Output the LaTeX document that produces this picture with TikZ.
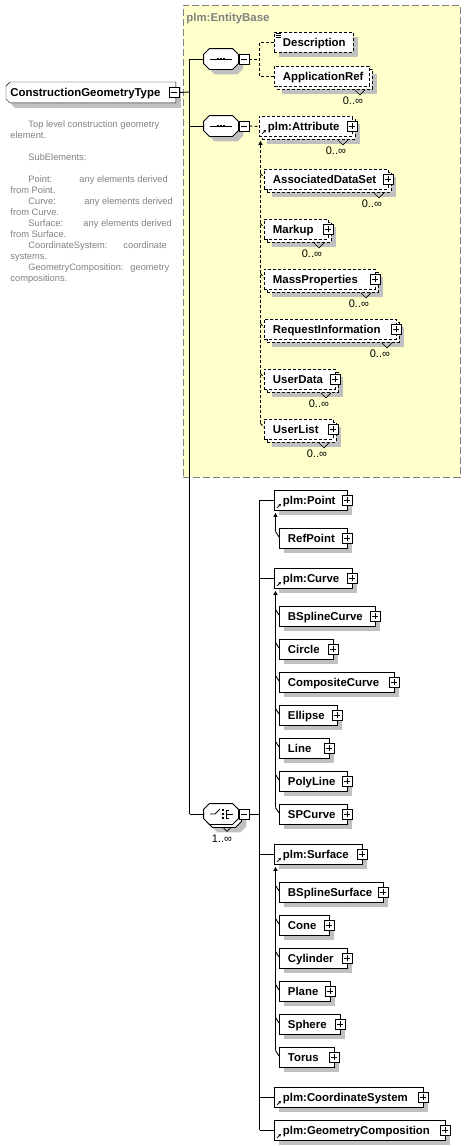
\documentclass[tikz,border=0pt]{standalone}
\usepackage{fontspec}
\setmainfont{Liberation Sans}
\usetikzlibrary{arrows.meta, positioning, calc, shadows, backgrounds}

\definecolor{basefill}{HTML}{FFFFCC}
\definecolor{baseedge}{HTML}{808080}
\definecolor{shadowgray}{HTML}{C0C0C0}
\definecolor{notegray}{HTML}{808080}

% octagon outline round an (invisible) node: style, node, corner
\newcommand{\octagonpath}[3]{%
  \draw[#1] ($(#2.north west)+(#3,0)$) -- ($(#2.north east)+(-#3,0)$) -- ($(#2.north east)+(0,#3)$)
    -- ($(#2.south east)+(0,-#3)$) -- ($(#2.south east)+(-#3,0)$) -- ($(#2.south west)+(#3,0)$)
    -- ($(#2.south west)+(0,-#3)$) -- ($(#2.north west)+(0,#3)$) -- cycle;}

\tikzset{
  elbox/.style={draw, fill=white, anchor=north west, minimum height=20pt,
    text width=#1, inner xsep=0pt, inner ysep=0pt, align=left,
    text height=9.2pt, text depth=1pt, font=\bfseries\fontsize{11.4}{13}\selectfont,
    execute at begin node={\hspace*{8.5pt}}},
  shadowed/.style={drop shadow={shadow xshift=5pt, shadow yshift=-5pt, fill=shadowgray, opacity=1}},
  elem/.style={elbox=#1, shadowed},
  optbox/.style={elbox=#1, dash pattern=on 3pt off 2pt},
  mainelem/.style={anchor=north west, minimum width=169pt, minimum height=20pt, inner xsep=0pt, inner ysep=0pt,
    text width=169pt, align=left, text height=9.2pt, text depth=1pt,
    font=\bfseries\fontsize{11.4}{13}\selectfont, execute at begin node={\hspace*{4pt}}},
  compositor/.style={minimum width=34pt, minimum height=20pt, inner sep=0pt},
  octo/.style={fill=white},
  signbox/.style={draw, fill=white, line width=.8pt, minimum size=10pt, inner sep=0pt},
  plusbox/.style={signbox, path picture={\draw[line width=.8pt] (path picture bounding box.center)
    +(-3pt,0) -- +(3pt,0) +(0,-3pt) -- +(0,3pt);}},
  minusbox/.style={signbox, path picture={\draw[line width=.8pt] (path picture bounding box.center)
    +(-3pt,0) -- +(3pt,0);}},
  dashline/.style={dash pattern=on 3pt off 2pt},
  inherit/.style={{Triangle[length=4pt, width=4pt]}-},
  refarrow/.style={line width=.8pt, -{Stealth[length=3pt, width=3pt]}},
  vmark/.style={line width=.7pt},
  mult/.style={font=\fontsize{11}{13}\selectfont, inner sep=0pt},
  note/.style={text=notegray, font=\fontsize{9.3}{11}\selectfont, anchor=base west, inner sep=0pt},
  basebox/.style={draw=baseedge, fill=basefill, dash pattern=on 7pt off 3pt, anchor=north west},
  baselabel/.style={text=baseedge, font=\bfseries\fontsize{11.4}{13}\selectfont, anchor=west, inner sep=0pt}
}

\begin{document}
\begin{tikzpicture}[x=1pt, y=-1pt, line width=0.9pt]
\useasboundingbox (0,0) rectangle (465,1146);
% EntityBase group
\node[basebox, minimum width=277pt, minimum height=472pt] (base) at (183,5) {};
\node[baselabel] (base-lbl) at (186,19) {plm:EntityBase};
% Root element
\node[mainelem] (cgt) at (6,82) {ConstructionGeometryType};
\begin{scope}[on background layer]
\draw[fill=white, shadowed] ($(cgt.north west)+(4,0)$) -- (cgt.north east) -- (cgt.south east)
  -- ($(cgt.south west)+(4,0)$) -- ($(cgt.south west)+(0,-4)$) -- ($(cgt.north west)+(0,4)$) -- cycle;
\end{scope}
\node[minusbox] (cgt-m) at ([xshift=-2pt]cgt.east) {};
% Annotation
\foreach \x/\y/\t [count=\i] in {28/124/{Top level construction geometry}, 10/135/{element.},
  28/157/{SubElements:}, 28/179/{Point:}, 79/179/{any elements derived}, 10/190/{from Point.},
  28/201/{Curve:}, 84/201/{any elements derived}, 10/212/{from Curve.},
  28/223/{Surface:}, 83/223/{any elements derived}, 10/234/{from Surface.},
  28/245/{CoordinateSystem:}, 123/245/{coordinate}, 10/256/{systems.},
  28/267/{GeometryComposition:}, 130/267/{geometry}, 10/278/{compositions.}}
  \node[note] (note\i) at (\x,\y+3.5) {\t};
% Sequence 1
\node[compositor] (seq1) at (221,59) {};
\octagonpath{octo, shadowed}{seq1}{6}
\node[minusbox] (seq1-m) at (244,59) {};
\draw ($(seq1.center)+(-11,0)$) -- ($(seq1.center)+(11,0)$);
\foreach \d in {-3,0,3} \fill ($(seq1.center)+(\d-1.2,-1.3)$) rectangle ++(2.4,2.6);
\node[optbox=79pt, shadowed] (desc) at (274,32) {Description};
\foreach \d in {1,3,5} \draw[line width=.6pt] ($(desc.north west)+(1.5,\d)$) -- ++(5,0);
\node[optbox=95pt, shadowed] (appref-b) at (277,69) {};
\node[optbox=95pt] (appref) at (274,66) {ApplicationRef};
\draw[vmark] ($(appref.south east)+(-15,3)$) -- ++(5,5) -- ++(5,-5);
\node[mult] (appref-n) at ($(appref.south east)+(-17,14)$) {0..∞};
\coordinate (seq1-bus) at (259.5,59);
\draw[dashline] (seq1-m.east) -- (seq1-bus);
\draw[dashline] (desc.west) -| (seq1-bus) |- (appref.west);
% Sequence 2
\node[compositor] (seq2) at (221,126) {};
\octagonpath{octo, shadowed}{seq2}{6}
\node[minusbox] (seq2-m) at (244,126) {};
\draw ($(seq2.center)+(-11,0)$) -- ($(seq2.center)+(11,0)$);
\foreach \d in {-3,0,3} \fill ($(seq2.center)+(\d-1.2,-1.3)$) rectangle ++(2.4,2.6);
\node[optbox=93pt, shadowed] (attr-b) at (262,119) {};
\node[optbox=93pt] (attr) at (259,116) {plm:Attribute};
\node[plusbox] (attr-p) at ([xshift=-1pt]attr.east) {};
\draw[refarrow] ($(attr.south west)+(3,-3)$) -- ++(4,-4);
\draw[vmark] ($(attr.south east)+(-15,3)$) -- ++(5,5) -- ++(5,-5);
\node[mult] (attr-n) at ($(attr.south east)+(-17,14)$) {0..∞};
\draw[dashline] (seq2-m.east) -- (attr.west);
% Attribute derivations
\foreach \n/\t/\w/\y in {ads/AssociatedDataSet/124/169, mku/Markup/64/219, mass/MassProperties/111/269,
  req/RequestInformation/132/319, udata/UserData/71/369, ulist/UserList/69/419}{
  \node[optbox=\w pt, shadowed] (\n-b) at (267,\y+3) {};
  \node[optbox=\w pt] (\n) at (264,\y) {\t};
  \node[plusbox] (\n-p) at ([xshift=-1pt]\n.east) {};
  \draw[vmark] ($(\n.south east)+(-15,3)$) -- ++(5,5) -- ++(5,-5);
  \node[mult] (\n-n) at ($(\n.south east)+(-17,14)$) {0..∞};
  \draw[dashline] ($(\n.west)+(-3.5,-6)$) -- ($(\n.west)+(0,-2)$);
}
\draw[dashline, inherit] ($(attr.south west)+(1.5,4)$) -- ($(ulist.west)+(-3.5,-6)$);
% Choice
\node[compositor] (choice-b) at (224,817) {};
\octagonpath{octo, shadowed}{choice-b}{6}
\node[compositor] (choice) at (221,814) {};
\octagonpath{octo}{choice}{6}
\node[minusbox] (choice-m) at (244,814) {};
\draw ($(choice.center)+(-11,0)$) -- ($(choice.center)+(-6,0)$) -- ($(choice.center)+(-1,-5)$);
\foreach \d in {-4,0,4} \fill ($(choice.center)+(0.8,\d-1.2)$) rectangle ++(2.4,2.4);
\draw ($(choice.center)+(8,-4)$) -- ($(choice.center)+(5,-4)$) -- ($(choice.center)+(5,4)$) -- ($(choice.center)+(8,4)$)
  ($(choice.center)+(5,0)$) -- ($(choice.center)+(12,0)$);
\draw[vmark] ($(choice.south)+(2,3)$) -- ++(4,4) -- ++(4,-4);
\node[mult] (choice-n) at ($(choice.south)+(1,14)$) {1..∞};
% Main bus
\coordinate (mbus) at (189.5,92);
\draw (cgt-m.east) -- (mbus);
\draw (seq1.west -| mbus) -- (choice.west -| mbus);
\foreach \n in {seq1,seq2,choice} \draw (\n.west -| mbus) -- (\n.west);
% Choice members
\foreach \n/\t/\w/\y in {pt/plm:Point/73/490, curve/plm:Curve/78/568, surf/plm:Surface/88/844,
  cs/plm:CoordinateSystem/149/1087, gc/plm:GeometryComposition/171/1120}{
  \node[elem=\w pt] (\n) at (274,\y) {\t};
  \node[plusbox] (\n-p) at ([xshift=-1pt]\n.east) {};
  \draw[refarrow] ($(\n.south west)+(3,-3)$) -- ++(4,-4);
}
\coordinate (cbus) at (259.5,814);
\draw (choice-m.east) -- (cbus);
\draw (pt.west -| cbus) -- (gc.west -| cbus);
\foreach \n in {pt,curve,surf,cs,gc} \draw (\n.west -| cbus) -- (\n.west);
% Derived elements
\foreach \n/\t/\w/\y in {refpt/RefPoint/68/528,
  bsc/BSplineCurve/96/606, circ/Circle/54/639, comp/CompositeCurve/115/672, ell/Ellipse/58/705,
  line/Line/50/738, poly/PolyLine/68/771, spc/SPCurve/68/804,
  bss/BSplineSurface/104/882, cone/Cone/50/915, cyl/Cylinder/68/948, plane/Plane/51/981,
  sph/Sphere/61/1014, tor/Torus/55/1047}{
  \node[elem=\w pt] (\n) at (279,\y) {\t};
  \node[plusbox] (\n-p) at ([xshift=-1pt]\n.east) {};
  \draw ($(\n.west)+(-3.5,-7)$) -- ($(\n.west)+(0,-1.5)$);
}
\draw[inherit] ($(pt.south west)+(1.5,2)$) -- ($(refpt.west)+(-3.5,-7)$);
\draw[inherit] ($(curve.south west)+(1.5,2)$) -- ($(spc.west)+(-3.5,-7)$);
\draw[inherit] ($(surf.south west)+(1.5,2)$) -- ($(tor.west)+(-3.5,-7)$);
\end{tikzpicture}
\end{document}
